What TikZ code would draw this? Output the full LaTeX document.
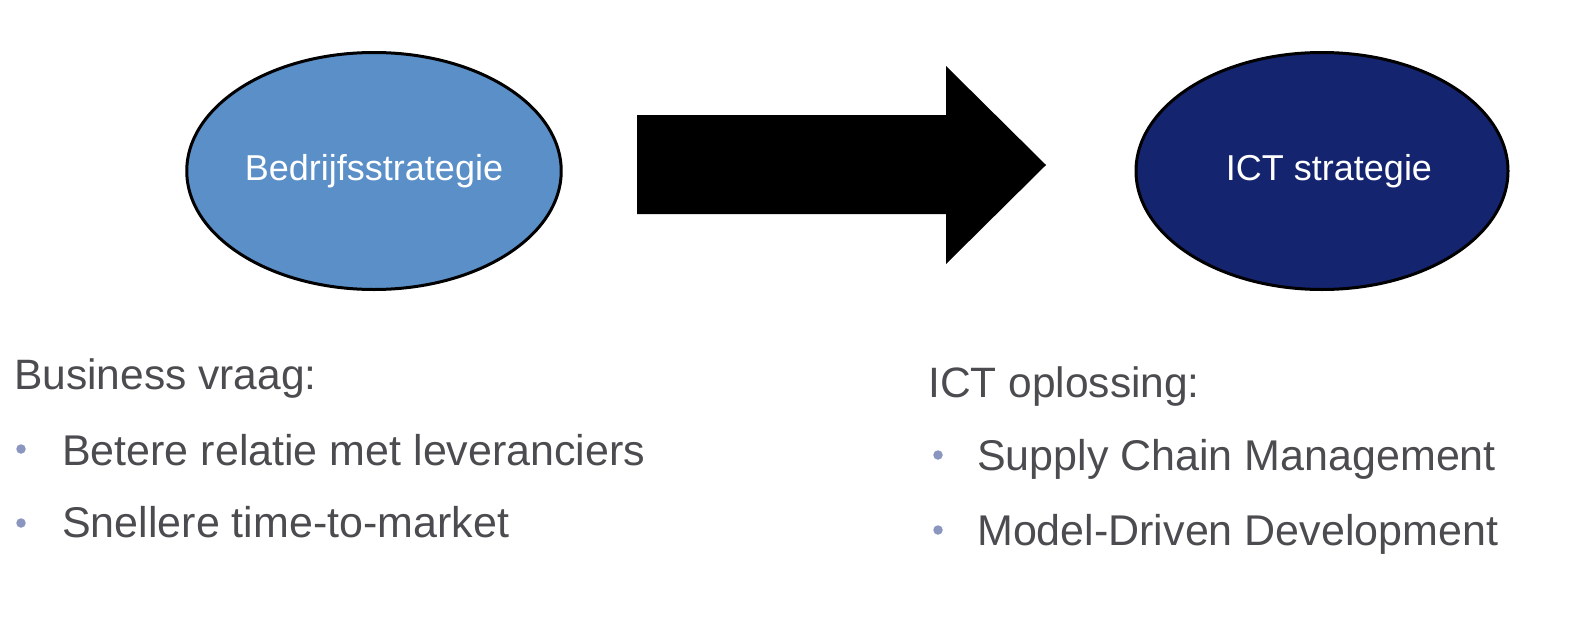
\documentclass[tikz,border=0pt]{standalone}
\usepackage{fontspec}
\setmainfont{Liberation Sans}
\usepackage{xcolor}
\usepackage{tikz}
\usetikzlibrary{positioning, shapes.geometric}

\definecolor{bizblue}{HTML}{5A8FC8}
\definecolor{ictblue}{HTML}{14246E}
\definecolor{txtgray}{HTML}{4B4B50}
\definecolor{dotblue}{HTML}{8A96C0}

\begin{document}
\begin{tikzpicture}[
    x=1pt, y=-1pt,
    oval/.style={ellipse, draw=black, line width=3pt, minimum width=372pt, minimum height=237pt, text=white, font=\fontsize{36}{42}\selectfont},
    head/.style={anchor=base west, text=txtgray, inner sep=0pt, font=\fontsize{42.5}{50}\selectfont},
    item/.style={anchor=base west, text=txtgray, inner sep=0pt, font=\fontsize{43}{50}\selectfont},
    dot/.style={circle, fill=dotblue, inner sep=0pt, minimum size=9.5pt}
]
\useasboundingbox (0,0) rectangle (1574,616);

\node[oval, fill=bizblue] (biz) at (374,171) {Bedrijfsstrategie};
\node[oval, fill=ictblue] (ict) at (1322,171) {\hspace{14pt}ICT strategie};

% block arrow
\fill[black] (637,115) -- (946,115) -- (946,66) -- (1046,165) -- (946,264) -- (946,214) -- (637,214) -- cycle;

\node[head] (vraag) at (14,389) {Business vraag:};
\node[item] (b1) at (62,465) {Betere relatie met leveranciers};
\node[item] (b2) at (62,537) {Snellere time-to-market};
\node[dot] (d1) at (21,449) {};
\node[dot] (d2) at (21,523) {};

\node[head] (oplos) at (928,397) {ICT oplossing:};
\node[item] (c1) at (977,470) {Supply Chain Management};
\node[item] (c2) at (977,545) {Model-Driven Development};
\node[dot] (e1) at (938,455) {};
\node[dot] (e2) at (938,530) {};
\end{tikzpicture}
\end{document}
